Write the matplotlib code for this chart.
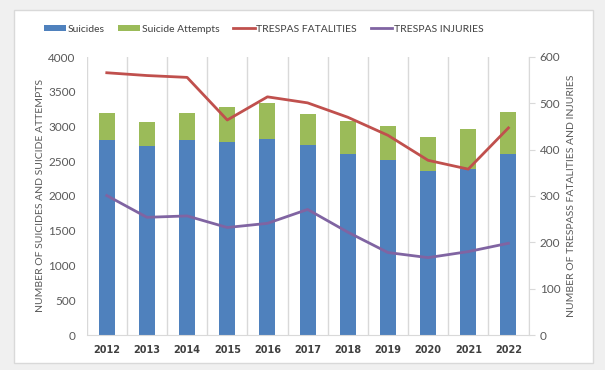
import matplotlib.pyplot as plt
import numpy as np
from matplotlib.patches import Rectangle

years = ["2012", "2013", "2014", "2015", "2016", "2017", "2018", "2019", "2020", "2021", "2022"]
suicides = [2810, 2715, 2810, 2780, 2825, 2740, 2610, 2515, 2360, 2385, 2610]
attempts = [390, 345, 390, 505, 520, 440, 475, 495, 495, 585, 605]
trespass_fatalities = [566, 560, 556, 464, 514, 501, 470, 431, 377, 358, 447]
trespass_injuries = [301, 254, 257, 232, 241, 271, 222, 178, 167, 180, 198]

blue = "#4f81bd"
green = "#9bbb59"
red = "#c0504d"
purple = "#8064a2"
txt = "#595959"
grid = "#d9d9d9"

plt.rcParams['font.family'] = ['Lato', 'DejaVu Sans']

fig = plt.figure(figsize=(6.05, 3.70), dpi=100)
fig.patch.set_facecolor("#f0f0f0")
# white chart box
fig.patches.append(Rectangle((14 / 605, 1 - 363 / 370), (593 - 14) / 605, (363 - 10) / 370,
                             transform=fig.transFigure, facecolor="white",
                             edgecolor="#d9d9d9", lw=1, zorder=-5))

ax = fig.add_axes([86.7 / 605, 1 - 335 / 370, (528.5 - 86.7) / 605, (335 - 57) / 370])
ax.set_facecolor("none")
x = np.arange(len(years))

b1 = ax.bar(x, suicides, width=0.4, color=blue, label="Suicides", zorder=2)
b2 = ax.bar(x, attempts, width=0.4, bottom=suicides, color=green, label="Suicide Attempts", zorder=2)

ax.set_xlim(-0.5, len(years) - 0.5)
ax.set_ylim(0, 4000)
ax.set_yticks(np.arange(0, 4001, 500))
ax.set_xticks(x)
ax.set_xticklabels(years, fontsize=7, fontweight="bold", color="#404040", family="DejaVu Sans")
ax.set_xticks(np.arange(-0.5, len(years), 1), minor=True)
ax.grid(axis="x", which="minor", color=grid, lw=1, zorder=0)
ax.tick_params(axis="x", which="both", length=0, pad=7)
ax.tick_params(axis="y", length=0, labelsize=8.5, labelcolor=txt, pad=8)
for s in ["top", "right", "left"]:
    ax.spines[s].set_visible(False)
ax.spines["bottom"].set_color(grid)
ax.set_ylabel("NUMBER OF SUICIDES AND SUICIDE ATTEMPTS", fontsize=7.5, color=txt, labelpad=2)

ax2 = ax.twinx()
l1, = ax2.plot(x, trespass_fatalities, color=red, lw=2, label="TRESPAS FATALITIES", zorder=3)
l2, = ax2.plot(x, trespass_injuries, color=purple, lw=2, label="TRESPAS INJURIES", zorder=3)
ax2.set_ylim(0, 600)
ax2.set_yticks(np.arange(0, 601, 100))
ax2.tick_params(axis="y", length=4, color=grid, labelsize=8.5, labelcolor=txt, pad=4)
for s in ["top", "left", "bottom"]:
    ax2.spines[s].set_visible(False)
ax2.spines["right"].set_color(grid)
ax2.set_ylabel("NUMBER OF TRESPASS FATALITIES AND INJURIES", fontsize=7.5, color=txt, labelpad=5)

fig.legend([b1, b2, l1, l2], ["Suicides", "Suicide Attempts", "TRESPAS FATALITIES", "TRESPAS INJURIES"],
           loc="center", bbox_to_anchor=(264 / 605, 1 - 29 / 370), ncol=4, frameon=False,
           fontsize=7.5, labelcolor="#404040", handlelength=2.1, handleheight=0.6,
           columnspacing=1.3, handletextpad=0.15)

fig.savefig("out.png", dpi=100, facecolor=fig.get_facecolor())
